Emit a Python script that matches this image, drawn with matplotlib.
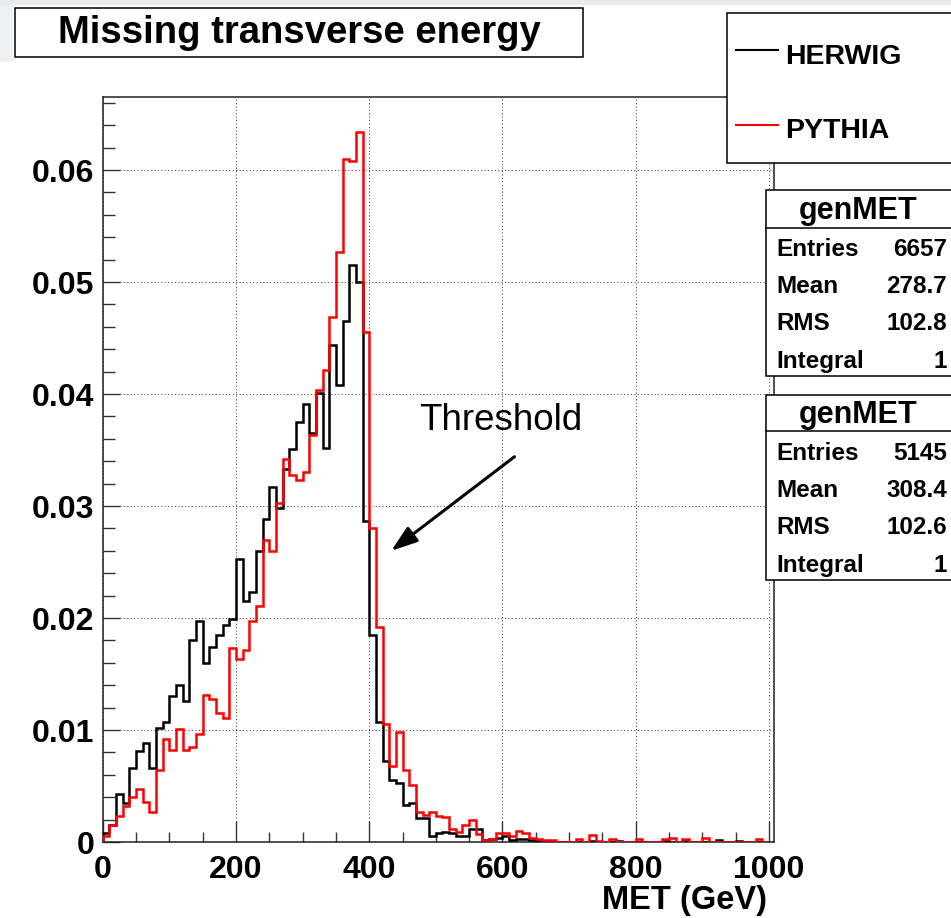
import numpy as np
import matplotlib
matplotlib.use("Agg")
import matplotlib.pyplot as plt
from matplotlib.patches import Rectangle
from matplotlib.lines import Line2D
from matplotlib.ticker import MultipleLocator, FixedLocator, FuncFormatter

plt.rcParams['font.family'] = ['Liberation Sans', 'DejaVu Sans']

# histogram binning: 10 GeV bins from 0 to 1000
bin_edges = np.arange(0, 1001, 10)

# HERWIG (black), normalised to unit integral
herwig = [
    0.0008, 0.0015, 0.0043, 0.0035, 0.0066, 0.0081, 0.0088, 0.0066, 0.0102, 0.0107,
    0.0130, 0.0140, 0.0126, 0.0180, 0.0197, 0.0160, 0.0174, 0.0185, 0.0194, 0.0199,
    0.0253, 0.0215, 0.0223, 0.0260, 0.0288, 0.0317, 0.0298, 0.0333, 0.0351, 0.0375,
    0.0391, 0.0365, 0.0401, 0.0352, 0.0444, 0.0408, 0.0465, 0.0515, 0.0500, 0.0287,
    0.0185, 0.0107, 0.0072, 0.0055, 0.0053, 0.0033, 0.0035, 0.0021, 0.0021, 0.0005,
    0.0008, 0.0009, 0.0008, 0.0005, 0.0005, 0.0012, 0.0012, 0.0002, 0.0003, 0.0004,
    0.0005, 0.0002, 0.0003, 0.0003, 0.0002, 0.0001, 0.0001, 0.0000, 0.0000, 0.0000,
    0.0000, 0.0000, 0.0000, 0.0001, 0.0000, 0.0000, 0.0000, 0.0001, 0.0000, 0.0000,
    0.0000, 0.0000, 0.0000, 0.0000, 0.0001, 0.0000, 0.0000, 0.0001, 0.0000, 0.0000,
    0.0000, 0.0000, 0.0002, 0.0000, 0.0000, 0.0001, 0.0000, 0.0000, 0.0000, 0.0000,
]

# PYTHIA (red), normalised to unit integral
pythia = [
    0.0005, 0.0015, 0.0023, 0.0032, 0.0040, 0.0047, 0.0036, 0.0027, 0.0064, 0.0092,
    0.0082, 0.0101, 0.0082, 0.0085, 0.0096, 0.0131, 0.0128, 0.0115, 0.0111, 0.0173,
    0.0163, 0.0171, 0.0197, 0.0211, 0.0270, 0.0260, 0.0303, 0.0342, 0.0328, 0.0323,
    0.0330, 0.0363, 0.0404, 0.0421, 0.0469, 0.0527, 0.0610, 0.0608, 0.0634, 0.0455,
    0.0280, 0.0192, 0.0105, 0.0068, 0.0098, 0.0064, 0.0051, 0.0027, 0.0024, 0.0027,
    0.0023, 0.0022, 0.0012, 0.0009, 0.0015, 0.0020, 0.0007, 0.0002, 0.0003, 0.0008,
    0.0008, 0.0005, 0.0010, 0.0008, 0.0004, 0.0003, 0.0002, 0.0002, 0.0000, 0.0000,
    0.0000, 0.0003, 0.0000, 0.0006, 0.0001, 0.0000, 0.0003, 0.0000, 0.0000, 0.0000,
    0.0003, 0.0000, 0.0000, 0.0000, 0.0003, 0.0004, 0.0000, 0.0003, 0.0000, 0.0000,
    0.0004, 0.0000, 0.0000, 0.0000, 0.0000, 0.0000, 0.0000, 0.0000, 0.0003, 0.0000,
]

series_names = ["HERWIG", "PYTHIA"]
series_colors = ["black", "red"]

stat_labels = ["Entries", "Mean", "RMS", "Integral"]
stats_herwig = ["6657", "278.7", "102.8", "1"]
stats_pythia = ["5145", "308.4", "102.6", "1"]

x_ticks = [0, 200, 400, 600, 800, 1000]
y_ticks = [0, 0.01, 0.02, 0.03, 0.04, 0.05, 0.06]

W, H = 951, 918


def fx(x):
    return x / W


def fy(y):
    return 1 - y / H


fig = plt.figure(figsize=(W / 100, H / 100), dpi=100)

# faint grey screenshot border top-left
fig.add_artist(Rectangle((0, fy(5)), 1, 5 / H, transform=fig.transFigure,
                         facecolor='#e8ebee', edgecolor='none', zorder=0))
fig.add_artist(Rectangle((0, fy(62)), fx(13), 57 / H, transform=fig.transFigure,
                         facecolor='#eef0f2', edgecolor='none', zorder=0))

ax = fig.add_axes([fx(102.7), fy(842), fx(774.3) - fx(102.7), fy(97) - fy(842)])

ax.stairs(herwig, bin_edges, color=series_colors[0], lw=1.8, zorder=3)
ax.stairs(pythia, bin_edges, color=series_colors[1], lw=1.8, zorder=4)

ax.set_xlim(0, 1008)
ax.set_ylim(0, 0.06652)

ax.xaxis.set_major_locator(FixedLocator(x_ticks))
ax.xaxis.set_minor_locator(MultipleLocator(50))
ax.yaxis.set_major_locator(FixedLocator(y_ticks))
ax.yaxis.set_minor_locator(MultipleLocator(0.002))
ax.yaxis.set_major_formatter(FuncFormatter(lambda v, p: "0" if v == 0 else f"{v:.2f}"))

ax.tick_params(axis='both', which='both', direction='in', top=False, right=False,
               width=1.0, color='#333333')
ax.tick_params(axis='x', which='major', length=15, pad=9)
ax.tick_params(axis='x', which='minor', length=7.5)
ax.tick_params(axis='y', which='major', length=12.5, pad=6)
ax.tick_params(axis='y', which='minor', length=8.5)
for lab in ax.get_xticklabels() + ax.get_yticklabels():
    lab.set_fontsize(23)
    lab.set_fontweight('bold')

ax.grid(True, which='major', color='#333333', linestyle=(0, (1, 2.5)), lw=0.7)
ax.set_axisbelow(True)
for sp in ax.spines.values():
    sp.set_linewidth(1.1)
    sp.set_color('#222222')

# x axis title, right aligned at the end of the axis
fig.text(fx(767), fy(900), "MET (GeV)", ha='right', va='center',
         fontsize=23.5, fontweight='bold')

# threshold annotation
ax.annotate("", xy=(433, 0.0260), xytext=(618, 0.0344),
            arrowprops=dict(arrowstyle='-|>,head_length=1.6,head_width=0.55',
                            color='black', lw=2.2, shrinkA=0, shrinkB=0))
ax.text(598, 0.0376, "Threshold", ha='center', va='center', fontsize=26.5)

# title box
fig.add_artist(Rectangle((fx(15), fy(57)), fx(583) - fx(15), 49 / H,
                         transform=fig.transFigure, facecolor='white',
                         edgecolor='black', lw=1.1, zorder=5))
fig.text(fx(299), fy(43), "Missing transverse energy", ha='center', va='baseline',
         fontsize=27.5, fontweight='bold', zorder=6)

# legend box
fig.add_artist(Rectangle((fx(727), fy(162.5)), fx(970) - fx(727), 150 / H,
                         transform=fig.transFigure, facecolor='white',
                         edgecolor='black', lw=1.1, zorder=5))
for i, (name, col) in enumerate(zip(series_names, series_colors)):
    yy = [50, 125][i]
    fig.add_artist(Line2D([fx(736), fx(778)], [fy(yy), fy(yy)],
                          transform=fig.transFigure, color=col, lw=1.5, zorder=6))
    fig.text(fx(785), fy(yy + 13.5), name, ha='left', va='baseline',
             fontsize=20.5, fontweight='bold', zorder=6)


# stats boxes
def stats_box(top, values):
    fig.add_artist(Rectangle((fx(766), fy(top + 185.5)), fx(970) - fx(766), 185.5 / H,
                             transform=fig.transFigure, facecolor='white',
                             edgecolor='black', lw=1.1, zorder=5))
    fig.add_artist(Line2D([fx(766), fx(970)], [fy(top + 37), fy(top + 37)],
                          transform=fig.transFigure, color='black', lw=1.1, zorder=6))
    fig.text(fx(858), fy(top + 28), "genMET", ha='center', va='baseline',
             fontsize=22, fontweight='bold', zorder=6)
    for j, (lab, val) in enumerate(zip(stat_labels, values)):
        yb = top + 65 + 37.5 * j
        fig.text(fx(776), fy(yb), lab, ha='left', va='baseline',
                 fontsize=17.5, fontweight='bold', zorder=6)
        fig.text(fx(947), fy(yb), val, ha='right', va='baseline',
                 fontsize=17.5, fontweight='bold', zorder=6)


stats_box(190.5, stats_herwig)
stats_box(394.5, stats_pythia)

fig.savefig("out.png", dpi=100)
